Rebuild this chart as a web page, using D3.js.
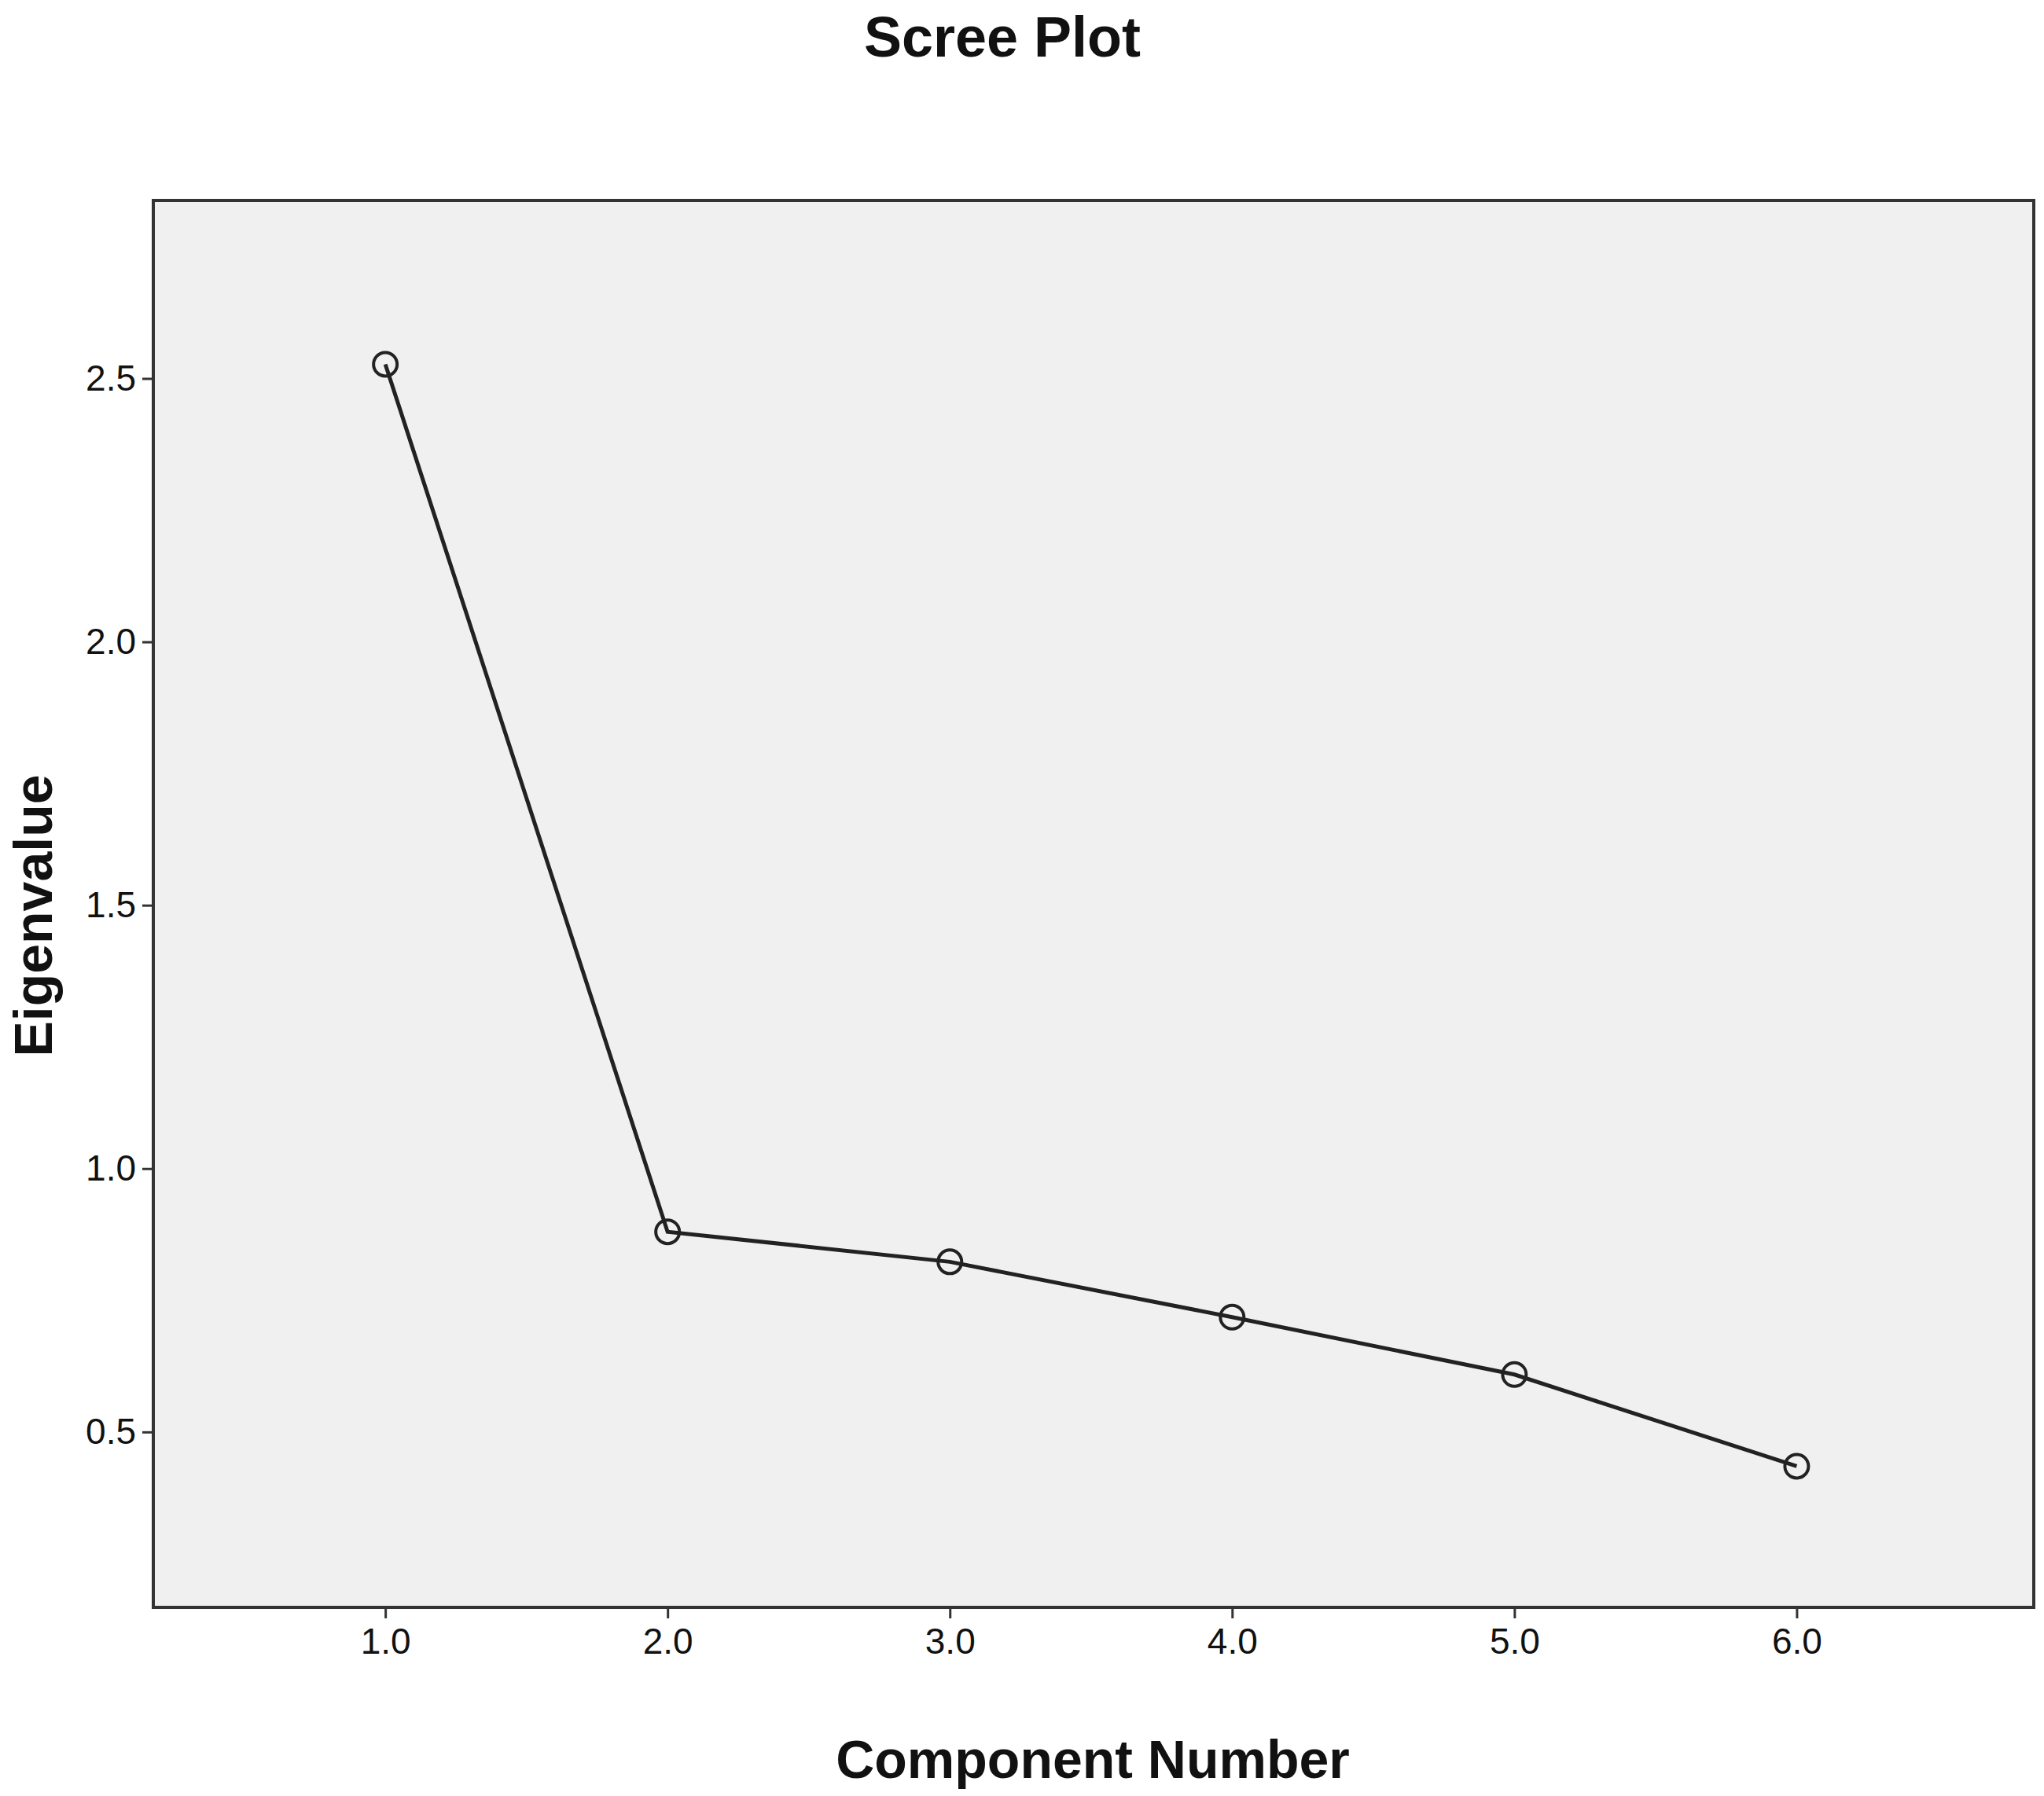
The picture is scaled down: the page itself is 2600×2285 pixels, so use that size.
<!DOCTYPE html>
<html>
<head>
<meta charset="utf-8">
<script src="https://cdn.jsdelivr.net/npm/d3@7"></script>
<style>
  body { margin: 0; background: white; }
  text { font-family: "Liberation Sans", Arial, sans-serif; fill: #111; }
</style>
</head>
<body>
<svg width="2600" height="2285"></svg>
<script>
const components = [1, 2, 3, 4, 5, 6]
const eigenvalues = [2.527, 0.880, 0.823, 0.718, 0.609, 0.435]
const yTicks = [0.5, 1.0, 1.5, 2.0, 2.5]

const svg = d3.select("svg")
const plotLeft = 195, plotRight = 2587, plotTop = 255, plotBottom = 2045

const x = d3.scaleLinear().domain([0.178, 6.84]).range([plotLeft, plotRight])
const y = d3.scaleLinear().domain([0.167, 2.838]).range([plotBottom, plotTop])

svg.append("rect")
  .attr("x", plotLeft).attr("y", plotTop)
  .attr("width", plotRight - plotLeft).attr("height", plotBottom - plotTop)
  .attr("fill", "#f0f0f0").attr("stroke", "#333").attr("stroke-width", 4)

const yAxis = svg.append("g").attr("transform", `translate(${plotLeft},0)`)
  .call(d3.axisLeft(y).tickValues(yTicks).tickFormat(d3.format(".1f")).tickSize(14).tickPadding(8))
const xAxis = svg.append("g").attr("transform", `translate(0,${plotBottom})`)
  .call(d3.axisBottom(x).tickValues(components).tickSize(14).tickPadding(12))
for (const a of [yAxis, xAxis]) {
  a.select(".domain").remove()
  a.selectAll("line").attr("stroke", "#333").attr("stroke-width", 3)
  a.selectAll("text").attr("font-size", 46).attr("font-family", "Liberation Sans Narrow, Liberation Sans, sans-serif").attr("fill", "#222")
}

const line = d3.line().x((d, i) => x(components[i])).y(d => y(d))
svg.append("path").datum(eigenvalues)
  .attr("d", line).attr("fill", "none").attr("stroke", "#222").attr("stroke-width", 5)

svg.selectAll("circle.pt").data(eigenvalues).join("circle")
  .attr("cx", (d, i) => x(components[i])).attr("cy", d => y(d)).attr("r", 15)
  .attr("fill", "none").attr("stroke", "#222").attr("stroke-width", 4)

svg.append("text").attr("x", 1275).attr("y", 72).attr("text-anchor", "middle")
  .attr("font-size", 72).attr("font-weight", "bold").text("Scree Plot")
svg.append("text").attr("x", 1390).attr("y", 2262).attr("text-anchor", "middle")
  .attr("font-size", 68).attr("font-weight", "bold").text("Component Number")
svg.append("text").attr("transform", `translate(66,${(plotTop + plotBottom) / 2 + 15}) rotate(-90)`)
  .attr("text-anchor", "middle").attr("font-size", 68).attr("font-weight", "bold").text("Eigenvalue")
</script>
</body>
</html>
